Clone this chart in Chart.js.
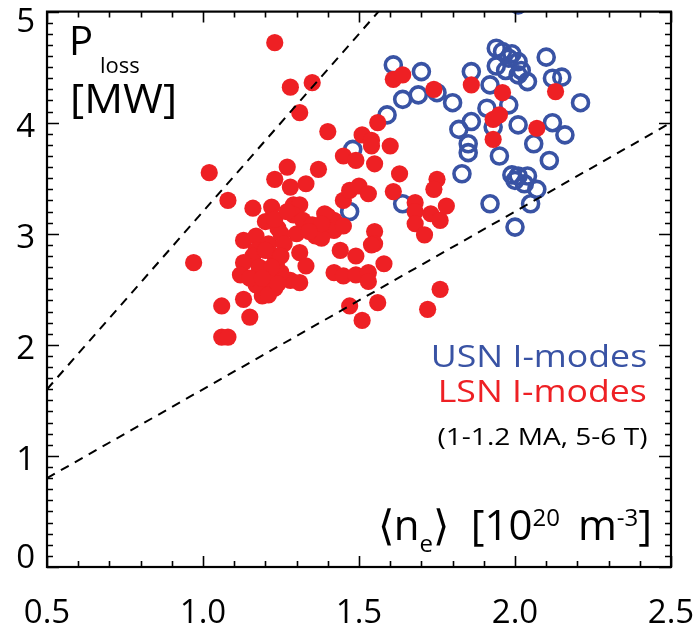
<!DOCTYPE html>
<html>
<head>
<meta charset="utf-8">
<script src="https://cdn.jsdelivr.net/npm/chart.js@4.4.1/dist/chart.umd.min.js"></script>
<style>
  body { margin: 0; background: #fff; }
  #wrap { position: relative; width: 695px; height: 630px; }
  #c { display: block; }
  .lab { position: absolute; font-family: "Open Sans", sans-serif; line-height: 1; white-space: nowrap; color: #000; }
  .sb, .sp { position: relative; font-size: 24px; }
</style>
</head>
<body>
<div id="wrap">
  <canvas id="c" width="695" height="630"></canvas>
  <div class="lab" style="font-size:40px; left:69px; top:20px;">P</div>
  <div class="lab" style="font-size:22px; left:100px; top:53px;">loss</div>
  <div class="lab" style="font-size:40px; left:70px; top:78px; transform:scaleX(1.08); transform-origin:left;">[MW]</div>
  <div class="lab" style="font-size:31px; right:48px; top:340px; color:#3953A4; transform:scaleX(1.15); transform-origin:right;">USN I-modes</div>
  <div class="lab" style="font-size:31px; right:48px; top:375px; color:#EE2024; transform:scaleX(1.15); transform-origin:right;">LSN I-modes</div>
  <div class="lab" style="font-size:24px; right:48px; top:424px; transform:scaleX(1.17); transform-origin:right;">(1-1.2 MA, 5-6 T)</div>
  <div class="lab" style="font-size:42px; right:43px; top:503px;">&#x27E8;n<span class="sb" style="top:12px;">e</span>&#x27E9;&nbsp; [10<span class="sp" style="top:-14px;">20</span>&nbsp;&#x2006;m<span class="sp" style="top:-14px;">-3</span>]</div>
</div>
<script>
// density <n_e> [1e20 m^-3] and P_loss [MW]
const usnDens = [2.01, 1.61, 1.70, 1.59, 1.64, 1.69, 1.75, 1.80, 1.48, 1.47, 1.64, 1.86, 1.92,
  1.94, 1.96, 1.99, 1.98, 2.01, 2.02, 1.94, 1.97, 2.01, 2.04, 2.10, 2.12, 2.15, 2.21, 1.98,
  1.91, 1.82, 1.86, 1.85, 1.85, 1.83, 1.95, 2.01, 2.06, 2.12, 2.16, 2.11, 1.99, 2.01, 2.04,
  2.00, 2.03, 2.07, 1.92, 2.05, 2.00, 1.93];
const usnPower = [5.06, 4.52, 4.46, 4.07, 4.21, 4.25, 4.27, 4.18, 3.76, 3.20, 3.27, 4.46, 4.34,
  4.67, 4.64, 4.62, 4.58, 4.55, 4.47, 4.51, 4.47, 4.43, 4.37, 4.59, 4.40, 4.41, 4.18, 4.16,
  4.13, 3.94, 4.01, 3.81, 3.73, 3.54, 3.70, 3.98, 3.81, 4.00, 3.89, 3.66, 3.53, 3.52, 3.52,
  3.48, 3.45, 3.40, 3.27, 3.27, 3.06, 3.96];

const lsnDens = [1.23, 1.28, 1.35, 1.31, 1.40, 1.45, 1.02, 1.23, 1.27, 1.37, 1.28, 1.33, 1.08,
  1.16, 1.22, 1.29, 1.31, 1.29, 1.32, 1.40, 1.42, 1.35, 1.30, 1.36, 1.42, 1.45, 1.45, 1.47,
  1.13, 1.17, 1.17, 1.16, 1.21, 1.23, 1.19, 1.22, 1.19, 1.19, 1.13, 1.12, 0.97, 1.31, 1.33,
  1.28, 1.31, 1.25, 1.44, 1.42, 1.45, 1.06, 1.13, 1.15, 1.47, 1.06, 1.08, 1.20, 1.24, 1.39,
  1.38, 1.25, 1.17, 1.23, 1.56, 1.51, 1.54, 1.54, 1.60, 1.49, 1.55, 1.63, 1.75, 1.74, 1.61,
  1.50, 1.53, 1.68, 1.68, 1.68, 1.73, 1.76, 1.78, 1.71, 1.55, 1.55, 1.54, 1.49, 1.58, 1.49,
  1.53, 1.53, 1.76, 1.56, 1.51, 1.72, 1.61, 1.64, 1.74, 1.86, 1.96, 2.13, 1.93, 1.95, 2.07,
  1.93, 1.38, 1.23, 1.26, 1.235, 1.20, 1.18, 1.21, 1.25, 1.15, 1.22, 1.19, 1.24, 1.27, 1.34];
const lsnPower = [4.72, 4.32, 4.36, 4.09, 3.92, 3.70, 3.55, 3.49, 3.60, 3.58, 3.42, 3.45, 3.30,
  3.23, 3.24, 3.26, 3.26, 3.17, 3.12, 3.16, 3.12, 3.08, 3.00, 2.98, 3.03, 3.07, 3.30, 3.39,
  2.94, 2.98, 2.85, 2.80, 2.91, 2.80, 2.67, 2.62, 2.50, 2.44, 2.74, 2.63, 2.74, 2.83, 2.71,
  2.58, 2.56, 2.65, 2.85, 2.65, 2.62, 2.35, 2.41, 2.25, 2.35, 2.07, 2.07, 3.11, 3.05, 3.18,
  2.96, 3.00, 2.54, 2.51, 4.00, 3.89, 3.84, 3.79, 3.79, 3.66, 3.63, 3.54, 3.49, 3.40, 3.38,
  3.43, 3.36, 3.28, 3.20, 3.09, 3.18, 3.12, 3.25, 2.99, 3.02, 2.91, 2.90, 2.80, 2.73, 2.63,
  2.65, 2.57, 2.50, 2.38, 2.22, 2.32, 4.39, 4.43, 4.30, 4.34, 4.27, 4.28, 4.03, 4.07, 3.95,
  3.85, 3.09, 3.13, 2.91, 2.72, 2.85, 2.70, 2.45, 2.80, 2.60, 2.70, 2.60, 2.55, 3.20, 3.02];

// dashed guide lines (end points)
const upperLine = [{ x: 0.5, y: 1.6 }, { x: 1.5625, y: 5.0 }];
const lowerLine = [{ x: 0.5, y: 0.8 }, { x: 2.5, y: 4.0 }];

const xTickLabels = [0.5, 1.0, 1.5, 2.0, 2.5];
const yTickLabels = [0, 1, 2, 3, 4, 5];

const RED = "#EE2024";
const BLUE = "#3953A4";

function toPoints(xs, ys) {
  return xs.map((x, i) => ({ x: x, y: ys[i] }));
}

// box, inward ticks on all four sides, y labels
const framePlugin = {
  id: "frame",
  afterDatasetsDraw(chart) {
    const { ctx, chartArea: a, scales } = chart;
    const xs = scales.x, ys = scales.y;
    ctx.save();
    ctx.strokeStyle = "#000";
    ctx.lineWidth = 1.6;
    ctx.beginPath();
    for (let i = 0; i <= 20; i++) {
      const v = 0.5 + i * 0.1;
      const px = Math.round(xs.getPixelForValue(v)) + 0.5;
      const len = i % 5 === 0 ? 11 : 6;
      ctx.moveTo(px, a.bottom); ctx.lineTo(px, a.bottom - len);
      ctx.moveTo(px, a.top); ctx.lineTo(px, a.top + len);
    }
    for (let i = 0; i <= 50; i++) {
      const v = i * 0.1;
      const py = Math.round(ys.getPixelForValue(v)) + 0.5;
      const len = i % 10 === 0 ? 12 : 6;
      ctx.moveTo(a.left, py); ctx.lineTo(a.left + len, py);
      ctx.moveTo(a.right, py); ctx.lineTo(a.right - len, py);
    }
    ctx.stroke();
    ctx.lineWidth = 2.2;
    ctx.strokeRect(a.left, a.top, a.right - a.left, a.bottom - a.top);

    ctx.fillStyle = "#000";
    ctx.font = "33px 'Open Sans'";
    ctx.textAlign = "right";
    ctx.textBaseline = "alphabetic";
    yTickLabels.forEach(v => {
      const py = ys.getPixelForValue(v);
      const base = Math.min(Math.max(py + 14, 32), 568);
      ctx.fillText(String(v), 35, base);
    });
    ctx.restore();
  }
};

new Chart(document.getElementById("c"), {
  type: "scatter",
  data: {
    datasets: [
      {
        data: upperLine,
        showLine: true,
        borderColor: "#000",
        borderWidth: 2,
        borderDash: [9, 7],
        pointRadius: 0,
        fill: false
      },
      {
        data: lowerLine,
        showLine: true,
        borderColor: "#000",
        borderWidth: 2,
        borderDash: [9, 7],
        pointRadius: 0,
        fill: false
      },
      {
        label: "LSN I-modes",
        data: toPoints(lsnDens, lsnPower),
        pointRadius: 8.6,
        pointBackgroundColor: RED,
        pointBorderWidth: 0,
        pointBorderColor: RED
      },
      {
        label: "USN I-modes",
        data: toPoints(usnDens, usnPower),
        pointRadius: 8,
        pointBackgroundColor: "rgba(0,0,0,0)",
        pointBorderColor: BLUE,
        pointBorderWidth: 3.6,
        clip: 0
      }
    ]
  },
  options: {
    responsive: false,
    animation: false,
    events: [],
    layout: { padding: { left: 0, right: 24, top: 6, bottom: 0 } },
    plugins: {
      legend: { display: false },
      tooltip: { enabled: false }
    },
    scales: {
      x: {
        type: "linear",
        min: 0.5,
        max: 2.5,
        afterBuildTicks: s => { s.ticks = xTickLabels.map(v => ({ value: v })); },
        afterFit: s => { s.height = 63; s.paddingLeft = 0; s.paddingRight = 0; },
        grid: { display: false, drawTicks: false },
        border: { display: false },
        ticks: {
          color: "#000",
          padding: 27,
          maxRotation: 0,
          autoSkip: false,
          font: { family: "'Open Sans'", size: 33 },
          callback: v => Number(v).toFixed(1)
        }
      },
      y: {
        type: "linear",
        min: 0,
        max: 5,
        afterFit: s => { s.width = 47; s.paddingTop = 0; s.paddingBottom = 0; },
        grid: { display: false, drawTicks: false },
        border: { display: false },
        ticks: { display: false }
      }
    }
  },
  plugins: [framePlugin]
});
</script>
</body>
</html>
